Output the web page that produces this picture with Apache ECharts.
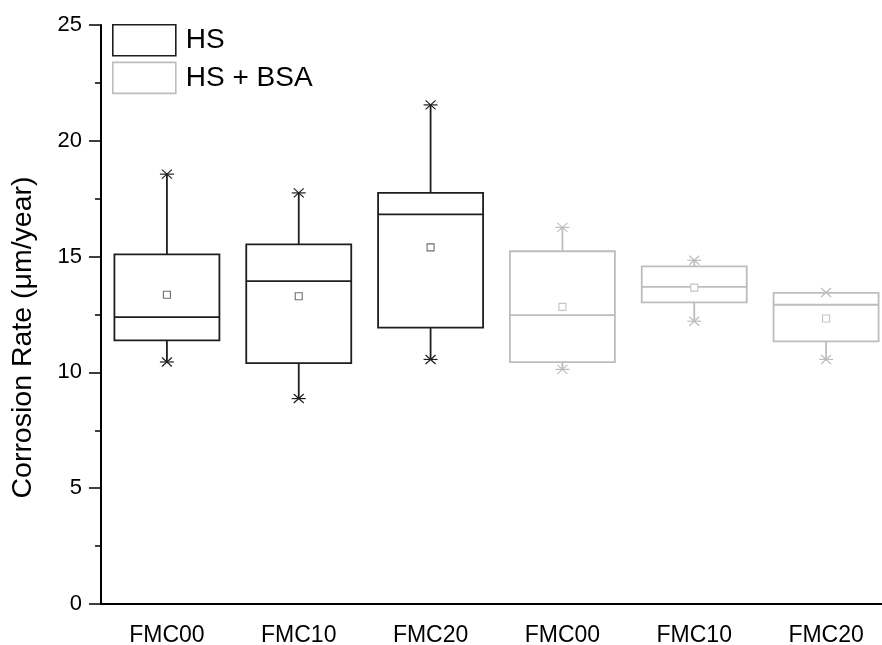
<!DOCTYPE html>
<html>
<head>
<meta charset="utf-8">
<script src="https://cdn.jsdelivr.net/npm/echarts@6/dist/echarts.min.js"></script>
<style>
  html, body { margin: 0; padding: 0; background: #fff; }
  #main { width: 882px; height: 645px; }
</style>
</head>
<body>
<div id="main"></div>
<script>
// categories on the x axis (HS first, then HS + BSA)
var categories = ['FMC00', 'FMC10', 'FMC20', 'FMC00', 'FMC10', 'FMC20'];
var yTicks = [0, 5, 10, 15, 20, 25];

// HS
var hsLow    = [10.45, 8.87, 10.56];
var hsQ1     = [11.38, 10.40, 11.93];
var hsMedian = [12.39, 13.94, 16.82];
var hsQ3     = [15.10, 15.53, 17.75];
var hsHigh   = [18.56, 17.75, 21.55];
var hsMean   = [13.35, 13.29, 15.40];

// HS + BSA
var bsaLow    = [10.13, 12.21, 10.56];
var bsaQ1     = [10.44, 13.02, 11.34];
var bsaMedian = [12.47, 13.69, 12.92];
var bsaQ3     = [15.23, 14.58, 13.43];
var bsaHigh   = [16.26, 14.84, 13.45];
var bsaMean   = [12.83, 13.66, 12.33];

var FONT = '"Liberation Sans", Arial, Helvetica, sans-serif';
var darkColor = '#1e1e1e';
var lightColor = '#bdbdbd';

function buildRows(offset, low, q1, med, q3, high, mean) {
  var rows = [];
  for (var i = 0; i < low.length; i++) {
    rows.push([offset + i, low[i], q1[i], med[i], q3[i], high[i], mean[i]]);
  }
  return rows;
}

function makeRender(color, meanColor) {
  return function (params, api) {
    var idx = api.value(0);
    var pLow = api.coord([idx, api.value(1)]);
    var pQ1 = api.coord([idx, api.value(2)]);
    var pMed = api.coord([idx, api.value(3)]);
    var pQ3 = api.coord([idx, api.value(4)]);
    var pHigh = api.coord([idx, api.value(5)]);
    var pMean = api.coord([idx, api.value(6)]);
    var cx = pMed[0];
    var half = 52.5;
    var line = { stroke: color, lineWidth: 1.8 };

    function star(y) {
      var s = { stroke: color, lineWidth: 1.2 };
      return [
        { type: 'line', shape: { x1: cx - 7, y1: y, x2: cx + 7, y2: y }, style: s },
        { type: 'line', shape: { x1: cx - 5, y1: y - 4.5, x2: cx + 5, y2: y + 4.5 }, style: s },
        { type: 'line', shape: { x1: cx - 5, y1: y + 4.5, x2: cx + 5, y2: y - 4.5 }, style: s }
      ];
    }

    var children = [
      { type: 'line', shape: { x1: cx, y1: pQ3[1], x2: cx, y2: pHigh[1] }, style: line },
      { type: 'line', shape: { x1: cx, y1: pQ1[1], x2: cx, y2: pLow[1] }, style: line },
      { type: 'rect', shape: { x: cx - half, y: pQ3[1], width: half * 2, height: pQ1[1] - pQ3[1] },
        style: { fill: 'none', stroke: color, lineWidth: 1.8 } },
      { type: 'line', shape: { x1: cx - half, y1: pMed[1], x2: cx + half, y2: pMed[1] }, style: line },
      { type: 'rect', shape: { x: cx - 3.5, y: pMean[1] - 3.5, width: 7, height: 7 },
        style: { fill: '#fff', stroke: meanColor, lineWidth: 1.1 } }
    ];
    children = children.concat(star(pHigh[1]), star(pLow[1]));
    return { type: 'group', children: children };
  };
}

var myChart = echarts.init(document.getElementById('main'));

var option = {
  backgroundColor: '#fff',
  animation: false,
  grid: { left: 101, width: 791, top: 25, bottom: 41, outerBoundsMode: 'none', containLabel: false },
  legend: {
    orient: 'vertical',
    left: 112,
    top: 24,
    padding: 0,
    itemWidth: 63,
    itemHeight: 31,
    itemGap: 5,
    selectedMode: false,
    textStyle: { fontFamily: FONT, fontSize: 28, color: '#000', padding: [0, 0, 0, 5] },
    data: [
      { name: 'HS', icon: 'rect', itemStyle: { color: '#fff', borderColor: darkColor, borderWidth: 1.6 } },
      { name: 'HS + BSA', icon: 'rect', itemStyle: { color: '#fff', borderColor: lightColor, borderWidth: 1.6 } }
    ]
  },
  xAxis: {
    type: 'category',
    data: categories,
    axisLine: { lineStyle: { color: '#000', width: 2 } },
    axisTick: { alignWithLabel: true, length: 12, lineStyle: { color: '#000', width: 1.5 } },
    axisLabel: { fontFamily: FONT, fontSize: 23, color: '#000', margin: 20, interval: 0 },
    splitLine: { show: false }
  },
  yAxis: {
    type: 'value',
    min: yTicks[0],
    max: yTicks[yTicks.length - 1],
    interval: 5,
    name: 'Corrosion Rate (\u03bcm/year)',
    nameLocation: 'middle',
    nameGap: 63,
    nameTextStyle: { fontFamily: FONT, fontSize: 28.5, color: '#000', padding: [0, 46, 0, 0] },
    axisLine: { show: true, lineStyle: { color: '#000', width: 2 } },
    axisTick: { show: true, length: 12, lineStyle: { color: '#000', width: 1.5 } },
    minorTick: { show: true, splitNumber: 2, length: 6, lineStyle: { color: '#000', width: 1.5 } },
    axisLabel: { fontFamily: FONT, fontSize: 22, color: '#000', margin: 19 },
    splitLine: { show: false }
  },
  series: [
    {
      name: 'HS',
      type: 'custom',
      renderItem: makeRender(darkColor, '#6e6e6e'),
      encode: { x: 0, y: [1, 2, 3, 4, 5, 6] },
      itemStyle: { color: darkColor },
      data: buildRows(0, hsLow, hsQ1, hsMedian, hsQ3, hsHigh, hsMean)
    },
    {
      name: 'HS + BSA',
      type: 'custom',
      renderItem: makeRender(lightColor, '#c4c4c4'),
      encode: { x: 0, y: [1, 2, 3, 4, 5, 6] },
      itemStyle: { color: lightColor },
      data: buildRows(3, bsaLow, bsaQ1, bsaMedian, bsaQ3, bsaHigh, bsaMean)
    }
  ]
};

myChart.setOption(option);
</script>
</body>
</html>
